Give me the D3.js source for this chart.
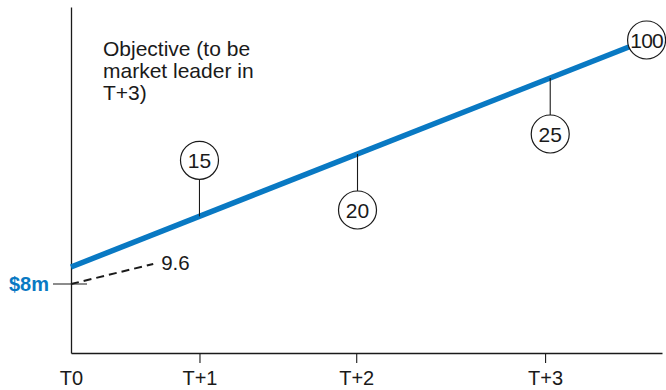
<!DOCTYPE html>
<html><head><meta charset="utf-8">
<script src="https://cdn.jsdelivr.net/npm/d3@7"></script>
<style>body{margin:0;background:#fff}svg{display:block}text{font-family:"Liberation Sans",Arial,Helvetica,sans-serif}</style>
</head><body><svg id="c" width="666" height="390"></svg>
<script>
// ---- data ----
const periodLabels = ["T0", "T+1", "T+2", "T+3"];
const periodPositions = [0, 1, 2.22, 3.69];
const objectiveT = [0, 4.48];
const objectiveV = [9.36, 27.52];
const actualT = [0, 0.64];
const actualV = [8, 9.6];
const calloutLabels = ["15", "20", "25"];
const calloutT = [1.0, 2.23, 3.73];
const calloutSide = ["above", "below", "below"];
const endLabel = "100";
const startLabel = "$8m";
const actualLabel = "9.6";
const objectiveText = ["Objective (to be", "market leader in", "T+3)"];

// ---- layout ----
const W = 666, H = 390;
const L = 71, R = 662, T = 7, B = 353;
const BLUE = "#0979c3", INK = "#1a1a1a";
const FS = 20;

const svg = d3.select("#c");
const x = d3.scaleLinear().domain([0, 4.6]).range([L, R]);
const y = d3.scaleLinear().domain([2.48, 30.16]).range([B, T]);

// x axis
const xAxis = svg.append("g").attr("transform", `translate(0,${B})`)
  .call(d3.axisBottom(x).tickValues(periodPositions)
    .tickFormat((d, i) => periodLabels[i]).tickSizeInner(10).tickSizeOuter(0).tickPadding(8));
xAxis.select(".domain").attr("stroke", INK).attr("stroke-width", 1.3);
xAxis.selectAll(".tick line").attr("stroke", INK).attr("stroke-width", 1.1)
  .filter((d, i) => i === 0).remove();
xAxis.selectAll(".tick text").attr("font-size", FS).attr("fill", INK)
  .style("font-family", '"Liberation Sans",Arial,sans-serif');

// y axis
const yAxis = svg.append("g").attr("transform", `translate(${L},0)`)
  .call(d3.axisLeft(y).ticks(0).tickSizeOuter(0));
yAxis.select(".domain").attr("stroke", INK).attr("stroke-width", 1.3);

// $8m tick and label
svg.append("line").attr("x1", L - 18).attr("x2", L + 16)
  .attr("y1", y(actualV[0])).attr("y2", y(actualV[0]))
  .attr("stroke", INK).attr("stroke-width", 1.1);
svg.append("text").attr("x", L - 22).attr("y", y(actualV[0]) + 7)
  .attr("text-anchor", "end").attr("font-size", 20).attr("font-weight", "bold")
  .attr("fill", BLUE).text(startLabel);

// actual dashed line
const line = d3.line().x(d => x(d[0])).y(d => y(d[1]));
const actualPts = actualT.map((t, i) => [t, actualV[i]]);
svg.append("path").attr("d", line(actualPts)).attr("fill", "none")
  .attr("stroke", INK).attr("stroke-width", 2).attr("stroke-dasharray", "8,5");
svg.append("text").attr("x", x(actualT[1]) + 8).attr("y", y(actualV[1]) + 6)
  .attr("font-size", 20.5).attr("fill", INK).text(actualLabel);

// objective line
const objPts = objectiveT.map((t, i) => [t, objectiveV[i]]);
svg.append("path").attr("d", line(objPts)).attr("fill", "none")
  .attr("stroke", BLUE).attr("stroke-width", 5.5);

const objAt = d3.scaleLinear().domain(objectiveT).range(objectiveV);

// callouts
const RAD = 19, OFF = 56;
calloutLabels.forEach((lab, i) => {
  const cx = x(calloutT[i]);
  const ly = y(objAt(calloutT[i]));
  const dir = calloutSide[i] === "above" ? -1 : 1;
  const cy = ly + dir * OFF;
  svg.append("line").attr("x1", cx).attr("x2", cx).attr("y1", ly).attr("y2", cy - dir * RAD)
    .attr("stroke", INK).attr("stroke-width", 1.1);
  svg.append("circle").attr("cx", cx).attr("cy", cy).attr("r", RAD)
    .attr("fill", "#fff").attr("stroke", INK).attr("stroke-width", 1.2);
  svg.append("text").attr("x", cx).attr("y", cy + 7.5).attr("text-anchor", "middle")
    .attr("font-size", 21).attr("fill", INK).text(lab);
});

// end callout
const ex = x(objectiveT[1]), ey = y(objectiveV[1]);
svg.append("circle").attr("cx", ex).attr("cy", ey).attr("r", RAD)
  .attr("fill", "#fff").attr("stroke", INK).attr("stroke-width", 1.2);
svg.append("text").attr("x", ex).attr("y", ey + 7.5).attr("text-anchor", "middle")
  .attr("font-size", 21).attr("fill", INK).attr("letter-spacing", -0.8).text(endLabel);

// objective annotation
svg.append("text").attr("font-size", 21).attr("fill", INK)
  .selectAll("tspan").data(objectiveText).join("tspan")
  .attr("x", 103).attr("y", (d, i) => 56 + i * 22).text(d => d);
</script></body></html>
